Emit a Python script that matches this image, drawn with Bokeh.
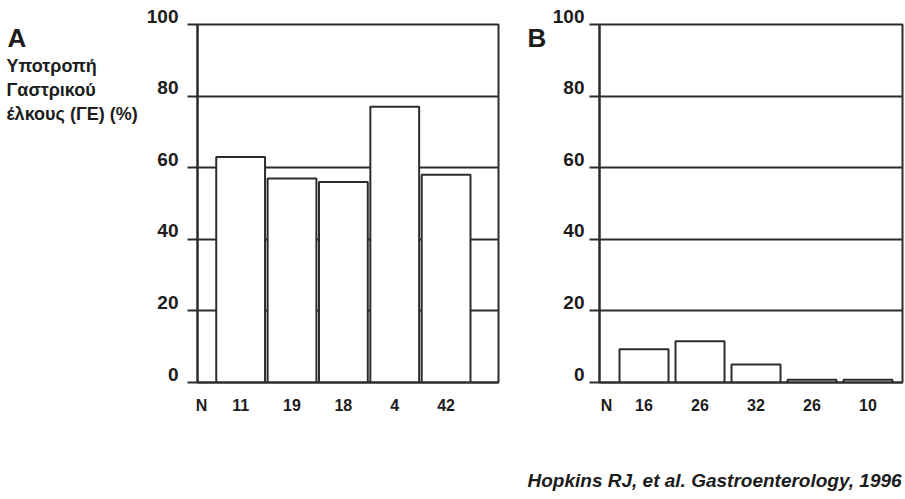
from bokeh.plotting import figure
from bokeh.models import Range1d, FixedTicker
from bokeh.layouts import row, column
from bokeh.core.properties import value
from bokeh.embed import file_html
from bokeh.resources import INLINE

# ---- data ----
y_ticks = [0, 20, 40, 60, 80, 100]
a_n = ["11", "19", "18", "4", "42"]
a_vals = [63, 57, 56, 77, 58]
b_n = ["16", "26", "32", "26", "10"]
b_vals = [9.3, 11.5, 5.0, 0.8, 0.8]
y_title = ["Υποτροπή", "Γαστρικού", "έλκους (ΓΕ) (%)"]
citation = "Hopkins RJ, et al. Gastroenterology, 1996"

LINE = "#2c2c2c"
TEXT = "#1c1c1c"
FONT = "Liberation Sans"
ROW_H = 440
TOP, BOT = 24, 382


def panel(ns, vals, width, left, right, xs, xe, n_pos, bar_w, standoff):
    p = figure(width=width, height=ROW_H, output_backend="svg", toolbar_location=None,
               title=None,
               x_range=Range1d(xs, xe), y_range=Range1d(0, 100),
               min_border_left=left, min_border_right=right,
               min_border_top=TOP, min_border_bottom=ROW_H - BOT)
    p.outline_line_color = LINE
    p.outline_line_width = 2
    xpos = list(range(1, len(vals) + 1))
    p.vbar(x=xpos, top=vals, width=bar_w, bottom=0, fill_color="white",
           line_color=LINE, line_width=2)
    ya = p.yaxis[0]
    ya.ticker = FixedTicker(ticks=y_ticks)
    ya.major_label_overrides = {t: f"{t}\n" for t in y_ticks}
    ya.axis_line_color = LINE
    ya.axis_line_width = 2
    ya.major_tick_in = 0
    ya.major_tick_out = 10
    ya.major_tick_line_color = LINE
    ya.major_tick_line_width = 2
    ya.minor_tick_line_color = None
    ya.major_label_standoff = standoff
    ya.major_label_text_font = FONT
    ya.major_label_text_font_style = "bold"
    ya.major_label_text_font_size = "19px"
    ya.major_label_text_line_height = 0.8
    ya.major_label_text_color = TEXT
    p.ygrid.ticker = FixedTicker(ticks=y_ticks)
    p.ygrid.grid_line_color = LINE
    p.ygrid.grid_line_width = 2
    p.xgrid.grid_line_color = None
    xa = p.xaxis[0]
    ticks = [n_pos] + xpos
    xa.ticker = FixedTicker(ticks=ticks)
    xa.major_label_overrides = {t: lab for t, lab in zip(ticks, ["N"] + ns)}
    xa.axis_line_color = LINE
    xa.axis_line_width = 2
    xa.major_tick_line_color = None
    xa.minor_tick_line_color = None
    xa.major_label_standoff = 8
    xa.major_label_text_font = FONT
    xa.major_label_text_font_style = "bold"
    xa.major_label_text_font_size = "16px"
    xa.major_label_text_color = TEXT
    return p


def text_box(width):
    # frame spans the same rows as the chart frames; data units equal canvas pixels
    t = figure(width=width, height=ROW_H, output_backend="svg", toolbar_location=None,
               title=None,
               x_range=Range1d(0, width), y_range=Range1d(BOT, TOP),
               min_border_left=0, min_border_right=0,
               min_border_top=TOP, min_border_bottom=ROW_H - BOT,
               x_axis_location=None, y_axis_location=None)
    t.outline_line_color = None
    t.grid.grid_line_color = None
    return t


pa = panel(a_n, a_vals, 377, 53, 22, 0.16, 6.02, 0.24, 0.95, 9)
pb = panel(b_n, b_vals, 357, 51, 3, 0.205, 5.616, 0.33, 0.875, 5)

ta = text_box(143)
ta.text(x=[7], y=[37], text=["A"], text_font=value(FONT), text_font_style="bold",
        text_font_size="26px", text_color=TEXT, text_baseline="alphabetic")
ta.text(x=[6, 6, 6], y=[65, 89.5, 113], text=y_title, text_font=value(FONT),
        text_font_style="bold", text_font_size="18px", text_color=TEXT,
        text_baseline="alphabetic")

tb = text_box(28)
tb.text(x=[7], y=[37], text=["B"], text_font=value(FONT), text_font_style="bold",
        text_font_size="26px", text_color=TEXT, text_baseline="alphabetic")

tc = figure(width=905, height=499 - ROW_H, output_backend="svg", toolbar_location=None,
            title=None, x_range=Range1d(0, 905), y_range=Range1d(499 - ROW_H, 0),
            min_border=0, x_axis_location=None, y_axis_location=None)
tc.outline_line_color = None
tc.grid.grid_line_color = None
tc.text(x=[527], y=[40], text=[citation], text_font=value(FONT),
        text_font_style="bold italic", text_font_size="19px", text_color=TEXT,
        text_baseline="alphabetic")

layout = column(row(ta, pa, tb, pb), tc)
open("out.html", "w").write(file_html(layout, INLINE))
